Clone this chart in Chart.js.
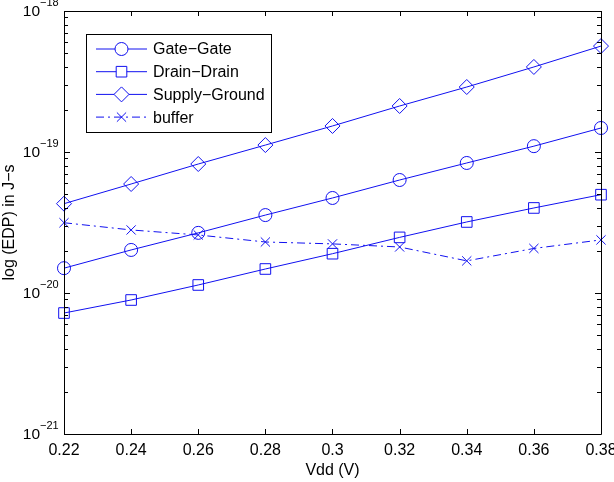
<!DOCTYPE html>
<html>
<head>
<meta charset="utf-8">
<script src="https://cdn.jsdelivr.net/npm/chart.js@4/dist/chart.umd.min.js"></script>
<style>
  html, body { margin: 0; padding: 0; background: #fff; }
  canvas { display: block; }
</style>
</head>
<body>
<canvas id="edp" width="614" height="482"></canvas>
<script>
const vdd = [0.22, 0.24, 0.26, 0.28, 0.30, 0.32, 0.34, 0.36, 0.38];
const gateGate = [1.50e-20, 2.02e-20, 2.67e-20, 3.57e-20, 4.72e-20, 6.33e-20, 8.36e-20, 1.10e-19, 1.48e-19];
const drainDrain = [7.21e-21, 8.92e-21, 1.14e-20, 1.48e-20, 1.90e-20, 2.48e-20, 3.19e-20, 4.01e-20, 4.98e-20];
const supplyGround = [4.30e-20, 5.93e-20, 8.22e-20, 1.12e-19, 1.53e-19, 2.12e-19, 2.89e-19, 4.01e-19, 5.64e-19];
const buffer = [3.15e-20, 2.80e-20, 2.58e-20, 2.30e-20, 2.23e-20, 2.12e-20, 1.69e-20, 2.07e-20, 2.38e-20];

const xTicks = [0.22, 0.24, 0.26, 0.28, 0.3, 0.32, 0.34, 0.36, 0.38];
const yDecades = [-21, -20, -19, -18];

const blue = "#1010f0";
const font = '"Liberation Sans", Arial, sans-serif';

function series(label, values, style, radius, dash) {
  return {
    label: label,
    data: vdd.map((v, i) => ({ x: v, y: values[i] })),
    borderColor: blue,
    borderWidth: 1,
    borderDash: dash || [],
    pointStyle: style,
    pointRadius: radius,
    pointBorderColor: blue,
    pointBorderWidth: 1,
    pointBackgroundColor: "rgba(0,0,0,0)",
    fill: false,
    tension: 0,
    clip: false,
  };
}

const datasets = [
  series("Gate\u2212Gate", gateGate, "circle", 6.5),
  series("Drain\u2212Drain", drainDrain, "rect", 7.5),
  series("Supply\u2212Ground", supplyGround, "rectRot", 7.5),
  series("buffer", buffer, "crossRot", 6.5, [8, 4, 2, 4]),
];

// axes box, inward ticks, labels
const axesPlugin = {
  id: "matlabAxes",
  afterDatasetsDraw(chart) {
    const ctx = chart.ctx;
    const a = chart.chartArea;
    const xs = chart.scales.x;
    const ys = chart.scales.y;
    ctx.save();
    ctx.strokeStyle = "#000";
    ctx.lineWidth = 1;
    ctx.beginPath();
    ctx.rect(Math.round(a.left) + 0.5, Math.round(a.top) + 0.5,
      Math.round(a.right - a.left), Math.round(a.bottom - a.top));
    ctx.stroke();

    ctx.beginPath();
    xTicks.forEach((t) => {
      const px = Math.round(xs.getPixelForValue(t)) + 0.5;
      ctx.moveTo(px, a.bottom);
      ctx.lineTo(px, a.bottom - 5);
      ctx.moveTo(px, a.top);
      ctx.lineTo(px, a.top + 5);
    });
    yDecades.forEach((d, i) => {
      const py = Math.round(ys.getPixelForValue(Math.pow(10, d))) + 0.5;
      ctx.moveTo(a.left, py);
      ctx.lineTo(a.left + 6, py);
      ctx.moveTo(a.right, py);
      ctx.lineTo(a.right - 6, py);
      if (i < yDecades.length - 1) {
        for (let m = 2; m <= 9; m++) {
          const pm = Math.round(ys.getPixelForValue(m * Math.pow(10, d))) + 0.5;
          ctx.moveTo(a.left, pm);
          ctx.lineTo(a.left + 4, pm);
          ctx.moveTo(a.right, pm);
          ctx.lineTo(a.right - 4, pm);
        }
      }
    });
    ctx.stroke();

    ctx.fillStyle = "#000";
    ctx.font = "16px " + font;
    ctx.textAlign = "center";
    ctx.textBaseline = "middle";
    xTicks.forEach((t) => {
      ctx.fillText(String(t), xs.getPixelForValue(t), a.bottom + 17);
    });
    ctx.fillText("Vdd (V)", (a.left + a.right) / 2, a.bottom + 37);

    yDecades.forEach((d) => {
      const py = ys.getPixelForValue(Math.pow(10, d));
      ctx.font = "15.5px " + font;
      ctx.textAlign = "right";
      ctx.fillText("10", 40, py + 1);
      ctx.font = "11px " + font;
      ctx.textAlign = "left";
      ctx.fillText("\u2212" + Math.abs(d), 40, py - 8);
    });

    ctx.font = "16px " + font;
    ctx.textAlign = "center";
    ctx.translate(10, (a.top + a.bottom) / 2);
    ctx.rotate(-Math.PI / 2);
    ctx.fillText("log (EDP) in J\u2212s", 0, 0);
    ctx.restore();
  },
};

const legendPlugin = {
  id: "boxLegend",
  afterDraw(chart) {
    const ctx = chart.ctx;
    ctx.save();
    ctx.fillStyle = "#fff";
    ctx.fillRect(86, 34, 185, 98);
    ctx.strokeStyle = "#000";
    ctx.lineWidth = 1;
    ctx.strokeRect(86.5, 34.5, 185, 98);
    chart.data.datasets.forEach((ds, i) => {
      const y = 49 + i * 22.7;
      ctx.strokeStyle = blue;
      ctx.lineWidth = 1;
      ctx.setLineDash(ds.borderDash);
      ctx.beginPath();
      ctx.moveTo(96, y);
      ctx.lineTo(147, y);
      ctx.stroke();
      ctx.setLineDash([]);
      ctx.fillStyle = "#fff";
      Chart.helpers.drawPoint(ctx, {
        pointStyle: ds.pointStyle,
        radius: ds.pointRadius,
        borderWidth: 1,
        rotation: 0,
      }, 121.5, y);
      ctx.fillStyle = "#000";
      ctx.font = "16px " + font;
      ctx.textAlign = "left";
      ctx.textBaseline = "middle";
      ctx.fillText(ds.label, 153, y + 1);
    });
    ctx.restore();
  },
};

new Chart(document.getElementById("edp"), {
  type: "line",
  data: { datasets: datasets },
  options: {
    responsive: false,
    animation: false,
    layout: { padding: { left: 64, right: 13, top: 11, bottom: 48 } },
    plugins: { legend: { display: false }, tooltip: { enabled: false } },
    scales: {
      x: { type: "linear", min: 0.22, max: 0.38, display: false },
      y: { type: "logarithmic", min: 1e-21, max: 1e-18, display: false },
    },
  },
  plugins: [axesPlugin, legendPlugin],
});
</script>
</body>
</html>
